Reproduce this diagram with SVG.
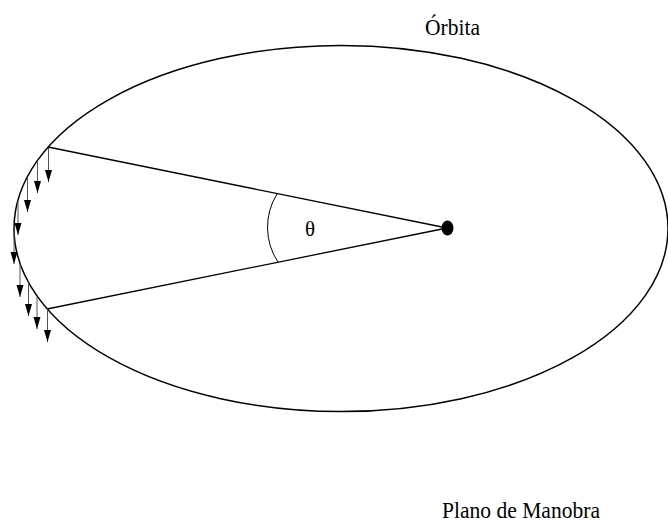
<svg xmlns="http://www.w3.org/2000/svg" width="668" height="523" viewBox="0 0 668 523">
  <style>
    .lbl { font-family: "Liberation Serif", "Times New Roman", serif; fill: #000; }
    .radial { stroke: #000; stroke-width: 1.3; fill: none; }
    .push { stroke: #555; stroke-width: 1; fill: none; marker-end: url(#head); }
  </style>
  <defs>
    <marker id="head" markerUnits="userSpaceOnUse" markerWidth="12" markerHeight="8" refX="12" refY="3.5" orient="auto">
      <path d="M0,0 L12,3.5 L0,7 z" fill="#000"/>
    </marker>
  </defs>
  <rect width="668" height="523" fill="#fff"/>

  <g id="orbit">
    <ellipse cx="341" cy="228.5" rx="327" ry="183" fill="none" stroke="#000" stroke-width="1.5"/>
  </g>

  <g id="focus">
    <ellipse cx="447.5" cy="228" rx="6" ry="7.5" fill="#000"/>
  </g>

  <g id="angle">
    <path d="M277,194 A63,63 0 0,0 278,262" fill="none" stroke="#000" stroke-width="1"/>
    <text class="lbl" x="310" y="236" font-size="21" text-anchor="middle">θ</text>
  </g>

  <g id="label-orbita">
    <text class="lbl" x="425" y="35" font-size="23" textLength="55" lengthAdjust="spacingAndGlyphs">Órbita</text>
  </g>

  <g id="label-plano">
    <text class="lbl" x="442" y="517.5" font-size="24" textLength="158" lengthAdjust="spacingAndGlyphs">Plano de Manobra</text>
  </g>

  <g id="connectors">
    <line class="radial" x1="48" y1="147" x2="447" y2="228"/>
    <line class="radial" x1="47" y1="309" x2="447" y2="228"/>
    <line class="push" x1="48.5" y1="148" x2="48.5" y2="182"/>
    <line class="push" x1="37.5" y1="161" x2="37.5" y2="193"/>
    <line class="push" x1="27.5" y1="178" x2="27.5" y2="212"/>
    <line class="push" x1="18" y1="201" x2="18" y2="235"/>
    <line class="push" x1="14" y1="231" x2="14" y2="264"/>
    <line class="push" x1="20" y1="264" x2="20" y2="297"/>
    <line class="push" x1="28.5" y1="282" x2="28.5" y2="316"/>
    <line class="push" x1="37" y1="297" x2="37" y2="329"/>
    <line class="push" x1="47.5" y1="309" x2="47.5" y2="342"/>
  </g>
</svg>
